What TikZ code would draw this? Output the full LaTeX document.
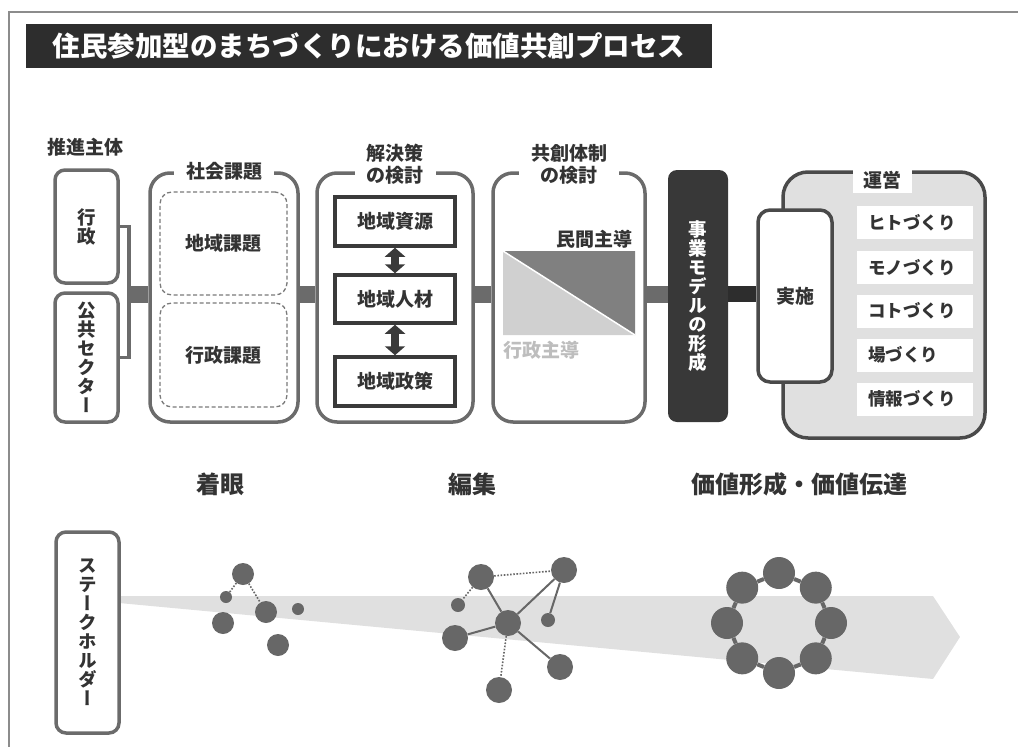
\documentclass[tikz,border=0pt]{standalone}
\usepackage{fontspec}
\setmainfont{Noto Sans CJK JP}
\newfontfamily\vjp{Noto Sans CJK JP}[RawFeature=+vert]
\usetikzlibrary{arrows.meta}
\definecolor{titlebg}{HTML}{2D2D2D}
\definecolor{boxgray}{HTML}{6B6B6B}
\definecolor{darktxt}{HTML}{333333}
\definecolor{dashgray}{HTML}{7A7A7A}
\definecolor{innerdark}{HTML}{3A3A3A}
\definecolor{jigyofill}{HTML}{383838}
\definecolor{uneifill}{HTML}{E0E0E0}
\definecolor{uneiborder}{HTML}{4A4A4A}
\definecolor{bandgray}{HTML}{E0E0E0}
\definecolor{dotgray}{HTML}{676767}
\definecolor{tridark}{HTML}{808080}
\definecolor{trilight}{HTML}{D0D0D0}
\definecolor{lighttxt}{HTML}{BDBDBD}
\definecolor{framegray}{HTML}{8C8C8C}
\newcommand{\lblfont}{\fontsize{19}{22}\selectfont\bfseries}
\newcommand{\vfont}{\fontsize{18.5}{19}\selectfont\vjp\bfseries}
\tikzset{
  smallbox/.style={draw=boxgray, line width=3.5pt, rounded corners=10pt, inner sep=0pt, text=darktxt, align=center, font=\vfont},
  bigbox/.style={draw=boxgray, line width=3.5pt, rounded corners=20pt, inner sep=0pt},
  dashbox/.style={draw=dashgray, line width=1.3pt, dash pattern=on 4pt off 2.5pt, rounded corners=12pt, inner sep=0pt, text=darktxt, font=\lblfont},
  solidbox/.style={draw=innerdark, line width=3.5pt, inner sep=0pt, minimum width=120pt, text=darktxt, font=\lblfont},
  grouptitle/.style={fill=white, inner xsep=12pt, inner ysep=2pt, text=darktxt, font=\lblfont, align=center},
  bar/.style={line width=17pt, draw=boxgray},
  darkbar/.style={line width=16pt, draw=titlebg},
  dblarrow/.style={draw=innerdark, line width=8pt, {Triangle[width=20pt,length=9pt]}-{Triangle[width=20pt,length=9pt]}},
  item/.style={fill=white, inner xsep=11pt, inner ysep=0pt, minimum height=33pt, text width=94pt, align=left, text=darktxt, font=\fontsize{17.5}{20}\selectfont\bfseries},
  ball/.style={circle, fill=dotgray, inner sep=0pt, minimum size=#1},
  dotline/.style={draw=dotgray, line width=1.6pt, dash pattern=on 1.6pt off 1.6pt},
  solidline/.style={draw=dotgray, line width=2pt},
  phase/.style={text=darktxt, font=\fontsize{24}{26}\selectfont\bfseries},
}
\begin{document}
\begin{tikzpicture}[x=1pt,y=-1pt]
\useasboundingbox (0,0) rectangle (1018,747);
% frame
\draw[framegray, line width=1.5pt] (1018,12) -- (9,12) -- (9,747);
% title
\node[fill=titlebg, minimum width=686pt, minimum height=44pt, inner sep=0pt, text=white, font=\fontsize{27.5}{30}\selectfont\bfseries] (title) at (369,46) {住民参加型のまちづくりにおける価値共創プロセス};

% actors
\node[text=darktxt, font=\lblfont] (suishin) at (85,147) {推進主体};
\node[smallbox, minimum width=63pt, minimum height=113pt] (gyo) at (86.5,226.5) {行\\政};
\node[smallbox, minimum width=63pt, minimum height=129pt] (kokyo) at (86.5,357.5) {公\\共\\セ\\ク\\タ\\ー};
\coordinate (br) at (129,294);
\draw[boxgray, line width=3.5pt] (gyo.east) -| (br) |- (kokyo.east);

% social issues
\node[bigbox, minimum width=148pt, minimum height=249pt] (shakai) at (224,297.5) {};
\node[grouptitle] (shakaiT) at (shakai.north) {社会課題};
\node[dashbox, minimum width=127pt, minimum height=103pt] (chiikikadai) at (223.5,243.5) {地域課題};
\node[dashbox, minimum width=127pt, minimum height=104pt] (gyoseikadai) at (223.5,355) {行政課題};

% solution
\node[bigbox, minimum width=156pt, minimum height=249pt] (kaiketsu) at (395,297.5) {};
\node[grouptitle] (kaiketsuT) at ([yshift=7pt]kaiketsu.north) {解決策\\の検討};
\node[solidbox, minimum height=49pt] (shigen) at (395,221.5) {地域資源};
\node[solidbox, minimum height=48pt] (jinzai) at (395,299) {地域人材};
\node[solidbox, minimum height=49pt] (seisaku) at (395,381.5) {地域政策};
\draw[dblarrow] (shigen.south) -- (jinzai.north);
\draw[dblarrow] (jinzai.south) -- (seisaku.north);

% co-creation
\node[bigbox, minimum width=152pt, minimum height=249pt] (kyoso) at (569,297.5) {};
\node[grouptitle] (kyosoT) at ([yshift=7pt]kyoso.north) {共創体制\\の検討};
\fill[trilight] (503,251) -- (503,335) -- (635,335) -- cycle;
\fill[tridark] (503,251) -- (635,251) -- (635,335) -- cycle;
\draw[white, line width=1.5pt] (503,251) -- (635,335);
\node[anchor=east, text=darktxt, font=\lblfont] (minkan) at (636,239) {民間主導};
\node[anchor=west, text=lighttxt, font=\lblfont] (gyoseishudo) at (500,350) {行政主導};

% business model
\node[fill=jigyofill, rounded corners=9pt, minimum width=60pt, minimum height=252pt, inner sep=0pt, text=white, align=center, font=\vfont] (jigyo) at (698,296) {事\\業\\モ\\デ\\ル\\の\\形\\成};

% operation
\node[draw=uneiborder, fill=uneifill, line width=3.5pt, rounded corners=25pt, minimum width=202pt, minimum height=266pt, inner sep=0pt] (unei) at (884,305) {};
\node[fill=white, minimum width=59pt, minimum height=26pt, inner sep=0pt, text=darktxt, font=\lblfont] (uneiT) at (882.5,180) {運営};
\node[draw=uneiborder, fill=white, line width=3.5pt, rounded corners=12pt, minimum width=74pt, minimum height=172pt, inner sep=0pt, text=darktxt, font=\lblfont] (jisshi) at (795,296) {実施};
\node[item, anchor=west] (hito) at (857,222.5) {ヒトづくり};
\node[item, anchor=west] (mono) at (857,267.5) {モノづくり};
\node[item, anchor=west] (koto) at (857,311) {コトづくり};
\node[item, anchor=west] (ba) at (857,355) {場づくり};
\node[item, anchor=west] (joho) at (857,399) {情報づくり};

% bars
\draw[bar] (br) -- (shakai.west |- br);
\draw[bar] (shakai.east |- br) -- (kaiketsu.west |- br);
\draw[bar] (kaiketsu.east |- br) -- (kyoso.west |- br);
\draw[bar] (kyoso.east |- br) -- (jigyo.west |- br);
\draw[darkbar] (jigyo.east |- br) -- (jisshi.west |- br);

% phases
\node[phase] (chakugan) at (220,484) {着眼};
\node[phase] (henshu) at (472,484) {編集};
\node[phase] (kachi) at (799,484) {価値形成・価値伝達};

% band
\fill[bandgray] (119,596) -- (933,596) -- (960,637) -- (933,679) -- (119,603) -- cycle;
\node[smallbox, minimum width=63pt, minimum height=201pt] (stake) at (87.5,632.5) {ス\\テ\\ー\\ク\\ホ\\ル\\ダ\\ー};

% group 1
\node[ball=22pt] (a1) at (243,574) {};
\node[ball=12pt] (b1) at (226,597) {};
\node[ball=22pt] (c1) at (223,623) {};
\node[ball=22pt] (d1) at (266,612) {};
\node[ball=12pt] (e1) at (298,609) {};
\node[ball=22pt] (f1) at (278,645) {};
\draw[dotline] (a1) -- (b1);
\draw[dotline] (a1) -- (d1);

% group 2
\node[ball=26pt] (g2) at (481,577) {};
\node[ball=26pt] (h2) at (564,570) {};
\node[ball=14pt] (i2) at (458,605) {};
\node[ball=26pt] (j2) at (455,638) {};
\node[ball=26pt] (k2) at (508,623) {};
\node[ball=14pt] (l2) at (548,620) {};
\node[ball=26pt] (m2) at (560,667) {};
\node[ball=26pt] (n2) at (499,690) {};
\draw[solidline] (g2) -- (k2);
\draw[solidline] (k2) -- (h2);
\draw[solidline] (h2) -- (l2);
\draw[solidline] (k2) -- (j2);
\draw[solidline] (k2) -- (m2);
\draw[dotline] (g2) -- (h2);
\draw[dotline] (g2) -- (i2);
\draw[dotline] (k2) -- (n2);

% group 3 ring
\foreach \i in {0,...,7} {
  \node[ball=32pt] (r\i) at ({779+52*cos(45*\i)},{623+50*sin(45*\i)}) {};
}
\foreach \i/\j in {0/1,1/2,2/3,3/4,4/5,5/6,6/7,7/0} {
  \draw[dotgray, line width=4pt] (r\i) -- (r\j);
}
\end{tikzpicture}
\end{document}
